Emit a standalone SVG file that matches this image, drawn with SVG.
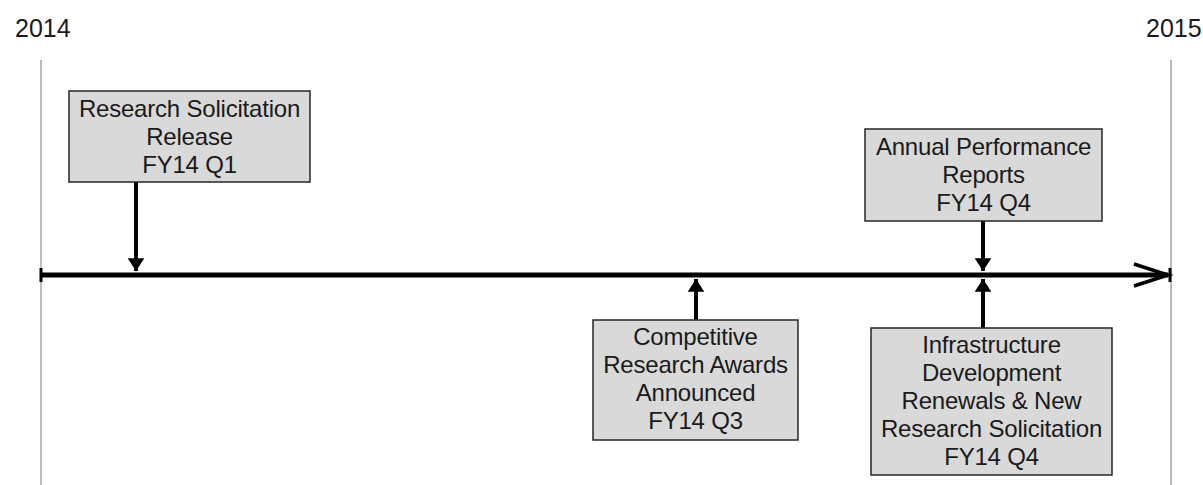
<svg xmlns="http://www.w3.org/2000/svg" width="1203" height="485" viewBox="0 0 1203 485">
<style>
text{font-family:"Liberation Sans",Arial,sans-serif;fill:#1a1a1a}
.yr{font-size:25px}
.lbl{font-size:24px;text-anchor:middle;letter-spacing:-0.2px}
.box{fill:#d9d9d9;stroke:#262626;stroke-width:1.5}
.guide{stroke:#a6a6a6;stroke-width:1.5;fill:none}
.stem{stroke:#000;stroke-width:4;fill:none}
.axis{stroke:#000;stroke-width:5;fill:none}
</style>
<defs>
<marker id="tri" viewBox="0 0 10 10" refX="10" refY="5" markerWidth="3.2" markerHeight="4.2" orient="auto" markerUnits="strokeWidth" preserveAspectRatio="none">
<path d="M0,0 L10,5 L0,10 z" fill="#000"/>
</marker>
</defs>
<rect width="1203" height="485" fill="#fff"/>
<g id="years">
<text class="yr" x="15" y="37">2014</text>
<text class="yr" x="1146" y="37">2015</text>
<line class="guide" x1="41" y1="60" x2="41" y2="485"/>
<line class="guide" x1="1171" y1="60" x2="1171" y2="485"/>
</g>
<g id="connectors">
<line class="axis" x1="41" y1="275" x2="1168" y2="275"/>
<line stroke="#000" stroke-width="3" x1="41" y1="268" x2="41" y2="282"/>
<line stroke="#000" stroke-width="3" x1="1170" y1="268" x2="1170" y2="282"/>
<polyline points="1134,264 1168,275 1134,286" fill="none" stroke="#000" stroke-width="3.5"/>
<line class="stem" x1="136" y1="182" x2="136" y2="271" marker-end="url(#tri)"/>
<line class="stem" x1="696" y1="320" x2="696" y2="279" marker-end="url(#tri)"/>
<line class="stem" x1="983" y1="221" x2="983" y2="271" marker-end="url(#tri)"/>
<line class="stem" x1="983" y1="328" x2="983" y2="279" marker-end="url(#tri)"/>
</g>
<g id="node1">
<rect class="box" x="69" y="91" width="241" height="91"/>
<text class="lbl" x="189.5" y="117">Research Solicitation</text>
<text class="lbl" x="189.5" y="145">Release</text>
<text class="lbl" x="189.5" y="173">FY14 Q1</text>
</g>
<g id="node2">
<rect class="box" x="593" y="320" width="205" height="120"/>
<text class="lbl" x="695.5" y="345">Competitive</text>
<text class="lbl" x="695.5" y="373">Research Awards</text>
<text class="lbl" x="695.5" y="401">Announced</text>
<text class="lbl" x="695.5" y="429">FY14 Q3</text>
</g>
<g id="node3">
<rect class="box" x="865" y="129" width="237" height="92"/>
<text class="lbl" x="983.5" y="155">Annual Performance</text>
<text class="lbl" x="983.5" y="183">Reports</text>
<text class="lbl" x="983.5" y="211">FY14 Q4</text>
</g>
<g id="node4">
<rect class="box" x="871" y="328" width="241" height="147"/>
<text class="lbl" x="991.5" y="353">Infrastructure</text>
<text class="lbl" x="991.5" y="381">Development</text>
<text class="lbl" x="991.5" y="409">Renewals &amp; New</text>
<text class="lbl" x="991.5" y="437">Research Solicitation</text>
<text class="lbl" x="991.5" y="465">FY14 Q4</text>
</g>
</svg>
